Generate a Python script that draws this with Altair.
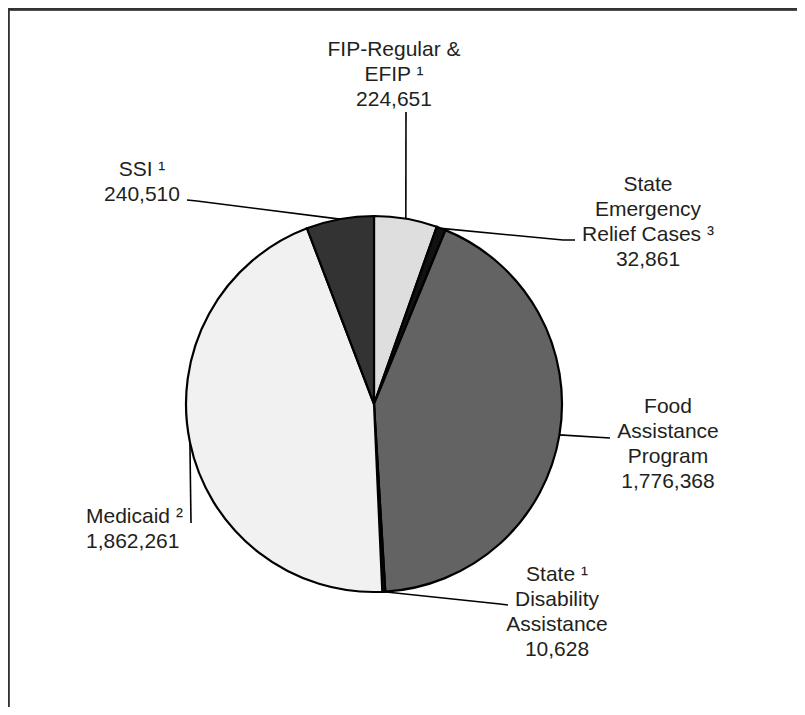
import math
import altair as alt
import pandas as pd

# ---------------- data ----------------
programs = [
    "FIP-Regular & EFIP",
    "State Emergency Relief Cases",
    "Food Assistance Program",
    "State Disability Assistance",
    "Medicaid",
    "SSI",
]
cases = [224651, 32861, 1776368, 10628, 1862261, 240510]
name_lines = [
    ["FIP-Regular &", "EFIP \u00b9"],
    ["State", "Emergency", "Relief Cases \u00b3"],
    ["Food", "Assistance", "Program"],
    ["State \u00b9", "Disability", "Assistance"],
    ["Medicaid \u00b2"],
    ["SSI \u00b9"],
]

# ---------------- styles / layout ----------------
fills = ["#dedede", "#111111", "#636363", "#111111", "#f1f1f1", "#333333"]
W, H = 789, 699
CX, CY, R = 366, 396, 188
FONT = "Liberation Sans"
FS = 21
LH = 25
# label anchor (x, first baseline y, align)
label_pos = [
    (386, 48, "center"),
    (640, 183, "center"),
    (660, 405, "center"),
    (549, 573, "center"),
    (78, 515, "left"),
    (134, 168, "center"),
]
# leader elbows after the point on the pie edge
leader_pts = [
    [(398, 104)],
    [(555, 232), (567, 232)],
    [(602, 430)],
    [(492, 596), (500, 597)],
    [(183, 515)],
    [(189, 193), (179, 192)],
]

# ---------------- tables ----------------
pie_df = pd.DataFrame({"program": programs, "cases": cases, "order": list(range(len(programs)))})

total = sum(cases)
rows_line = []
rows_text = []
cum = 0
for i, (p, v) in enumerate(zip(programs, cases)):
    mid = (cum + v / 2) / total * 2 * math.pi
    cum += v
    ax = CX + R * math.sin(mid)
    ay = CY - R * math.cos(mid)
    pts = [(ax, ay)] + leader_pts[i]
    for j, (px, py) in enumerate(pts):
        rows_line.append({"program": p, "seq": j, "px": px, "py": py})
    lx, ly, al = label_pos[i]
    txt = "\n".join(name_lines[i] + [f"{v:,}"])
    rows_text.append({"program": p, "px": lx, "py": ly, "label": txt, "align": al})

lines_df = pd.DataFrame(rows_line)
text_df = pd.DataFrame(rows_text)

xs = alt.Scale(domain=[0, W], nice=False, zero=False)
ys = alt.Scale(domain=[0, H], nice=False, zero=False, reverse=True)

arcs = alt.Chart(pie_df).mark_arc(radius=R, stroke="#000000", strokeWidth=2.2).encode(
    theta=alt.Theta("cases:Q", stack=True),
    order=alt.Order("order:Q"),
    color=alt.Color("program:N", scale=alt.Scale(domain=programs, range=fills), legend=None),
    x=alt.value(CX),
    y=alt.value(CY),
)

leaders = alt.Chart(lines_df).mark_line(color="#000000", strokeWidth=1.6).encode(
    x=alt.X("px:Q", scale=xs, axis=None),
    y=alt.Y("py:Q", scale=ys, axis=None),
    detail="program:N",
    order="seq:Q",
)

def text_layer(al):
    return alt.Chart(text_df).transform_filter(
        alt.datum.align == al
    ).mark_text(
        align=al, baseline="alphabetic", font=FONT, fontSize=FS,
        lineBreak="\n", lineHeight=LH, color="#231f20",
    ).encode(
        x=alt.X("px:Q", scale=xs, axis=None),
        y=alt.Y("py:Q", scale=ys, axis=None),
        text="label:N",
    )

frame_top = alt.Chart(pie_df).mark_rule(color="#333333", strokeWidth=2.5).encode(
    x=alt.value(0), x2=alt.value(W + 30), y=alt.value(1)
)
frame_left = alt.Chart(pie_df).mark_rule(color="#333333", strokeWidth=2.5).encode(
    x=alt.value(0), y=alt.value(0), y2=alt.value(H + 30)
)

chart = alt.layer(
    frame_top, frame_left, arcs, leaders, text_layer("center"), text_layer("left")
).properties(
    width=W, height=H, autosize=alt.AutoSizeParams(type="none"), padding=0,
).configure_view(stroke=None)

chart.save("out.html", embed_options={"renderer": "svg", "actions": False})
